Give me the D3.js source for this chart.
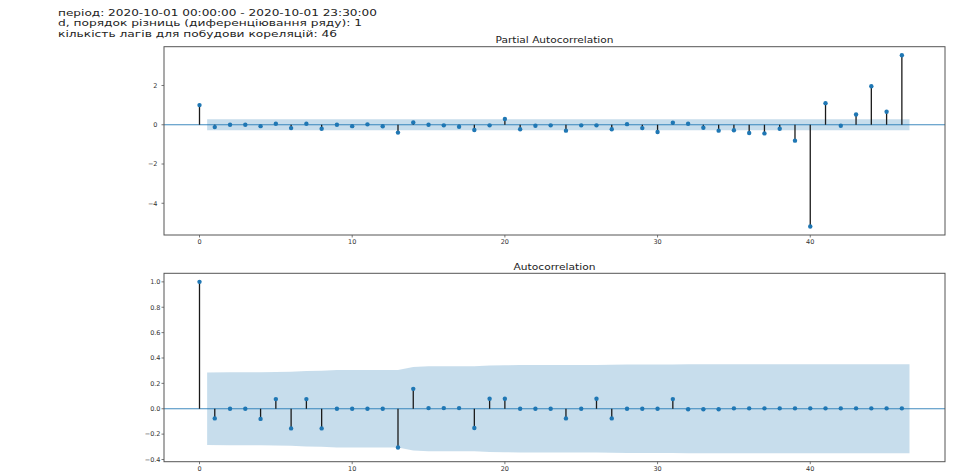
<!DOCTYPE html>
<html>
<head>
<meta charset="utf-8">
<script src="https://cdn.jsdelivr.net/npm/d3@7"></script>
<style>
  html, body { margin: 0; padding: 0; background: #ffffff; }
  svg { display: block; }
  text { font-family: "DejaVu Sans", sans-serif; }
</style>
</head>
<body>
<div id="chart"></div>
<script>
// ---------------- data ----------------
const headerLines = [
  "період: 2020-10-01 00:00:00 - 2020-10-01 23:30:00",
  "d, порядок різниць (диференціювання ряду): 1",
  "кількість лагів для побудови кореляцій: 46"
];
const pacfTitle = "Partial Autocorrelation";
const acfTitle = "Autocorrelation";

const lags = d3.range(0, 47);

const pacfValues = [1.0, -0.12, 0.0, 0.0, -0.07, 0.05, -0.17, 0.05, -0.2, 0.0,
  -0.07, 0.02, -0.08, -0.4, 0.12, 0.0, -0.03, -0.1, -0.27, -0.03,
  0.29, -0.23, -0.05, -0.03, -0.3, -0.03, -0.03, -0.23, 0.03, -0.17,
  -0.37, 0.1, 0.05, -0.15, -0.3, -0.28, -0.42, -0.44, -0.2, -0.81,
  -5.18, 1.1, -0.05, 0.52, 1.96, 0.66, 3.54];

const acfValues = [1.0, -0.076, 0.0, 0.0, -0.08, 0.076, -0.155, 0.076, -0.155, 0.0,
  0.0, 0.0, 0.0, -0.305, 0.157, 0.005, 0.005, 0.005, -0.152, 0.079,
  0.079, 0.0, 0.0, 0.0, -0.076, 0.0, 0.079, -0.076, 0.0, 0.0,
  0.0, 0.076, -0.004, -0.004, -0.004, 0.003, 0.003, 0.003, 0.003, 0.003,
  0.003, 0.003, 0.003, 0.003, 0.003, 0.003, 0.003];

// confidence half-widths for lags 1..46
const pacfBand = 0.286;
const acfBand = [0.286, 0.2875, 0.2875, 0.2875, 0.2894, 0.291, 0.2976, 0.2992, 0.3057, 0.3057,
  0.3057, 0.3057, 0.3057, 0.3296, 0.3357, 0.3357, 0.3357, 0.3357, 0.3413, 0.3428,
  0.3442, 0.3442, 0.3442, 0.3442, 0.3456, 0.3456, 0.3471, 0.3484, 0.3484, 0.3484,
  0.3484, 0.3498, 0.3498, 0.3498, 0.3498, 0.3498, 0.3498, 0.3498, 0.3498, 0.3498,
  0.3498, 0.3498, 0.3498, 0.3498, 0.3498, 0.3498];

const xTicks = [0, 10, 20, 30, 40];
const pacfYTicks = [-4, -2, 0, 2];
const acfYTicks = [-0.4, -0.2, 0.0, 0.2, 0.4, 0.6, 0.8, 1.0];

// ---------------- layout ----------------
const W = 959, H = 472;
const svg = d3.select("#chart").append("svg").attr("width", W).attr("height", H);

const C0 = "#1f77b4";
const axLeft = 164, axRight = 945;

// header
const headerWidths = [319, 304, 279];
headerLines.forEach((t, i) => {
  svg.append("text")
    .attr("x", 58).attr("y", 15.5 + i * 10.5)
    .attr("font-size", 9)
    .attr("fill", "#222")
    .attr("textLength", headerWidths[i])
    .attr("lengthAdjust", "spacingAndGlyphs")
    .text(t);
});

function panel(opts) {
  const { top, bottom, values, band, yTicks, title, titleY, titleWidth, yFmt, labelRight } = opts;
  const g = svg.append("g");

  // x scale with matplotlib-like 5% margins over [0, 46.5]
  const xMin = 0, xMax = lags[lags.length - 1] + 0.5;
  const xPad = (xMax - xMin) * 0.05;
  const x = d3.scaleLinear().domain([xMin - xPad, xMax + xPad]).range([axLeft, axRight]);

  // band points (first shifted -0.5, last +0.5)
  const bandPts = lags.slice(1).map((l, i) => {
    let xv = l;
    if (i === 0) xv -= 0.5;
    if (i === lags.length - 2) xv += 0.5;
    return { x: xv, hw: band[i] };
  });

  const yLo = Math.min(d3.min(values), d3.min(bandPts, d => -d.hw));
  const yHi = Math.max(d3.max(values), d3.max(bandPts, d => d.hw));
  const yPad = (yHi - yLo) * 0.05;
  const y = d3.scaleLinear().domain([yLo - yPad, yHi + yPad]).range([bottom, top]);

  // confidence fill
  g.append("path")
    .datum(bandPts)
    .attr("d", d3.area().x(d => x(d.x)).y0(d => y(-d.hw)).y1(d => y(d.hw)))
    .attr("fill", C0).attr("fill-opacity", 0.25);

  // zero line
  g.append("line")
    .attr("x1", axLeft).attr("x2", axRight)
    .attr("y1", y(0)).attr("y2", y(0))
    .attr("stroke", C0).attr("stroke-width", 1).attr("stroke-opacity", 0.85);

  // stems
  g.selectAll(".stem").data(lags).enter().append("line")
    .attr("x1", d => x(d)).attr("x2", d => x(d))
    .attr("y1", y(0)).attr("y2", d => y(values[d]))
    .attr("stroke", "#1a1a1a").attr("stroke-width", 1.3);

  // markers
  g.selectAll(".mk").data(lags).enter().append("circle")
    .attr("cx", d => x(d)).attr("cy", d => y(values[d]))
    .attr("r", 2.2).attr("fill", C0);

  // frame
  g.append("rect")
    .attr("x", axLeft).attr("y", top)
    .attr("width", axRight - axLeft).attr("height", bottom - top)
    .attr("fill", "none").attr("stroke", "#555").attr("stroke-width", 1);

  // x ticks
  xTicks.forEach(t => {
    g.append("line").attr("x1", x(t)).attr("x2", x(t))
      .attr("y1", bottom).attr("y2", bottom + 2.5)
      .attr("stroke", "#555").attr("stroke-width", 0.8);
    g.append("text").attr("x", x(t)).attr("y", bottom + 9)
      .attr("text-anchor", "middle").attr("font-size", 6.5).attr("fill", "#333")
      .text(t);
  });

  // y ticks
  yTicks.forEach(t => {
    g.append("line").attr("x1", axLeft - 2.5).attr("x2", axLeft)
      .attr("y1", y(t)).attr("y2", y(t))
      .attr("stroke", "#555").attr("stroke-width", 0.8);
    g.append("text").attr("x", labelRight).attr("y", y(t) + 2.3)
      .attr("text-anchor", "end").attr("font-size", 6.5).attr("fill", "#333")
      .text(yFmt(t));
  });

  // title
  svg.append("text")
    .attr("x", (axLeft + axRight) / 2).attr("y", titleY)
    .attr("text-anchor", "middle").attr("font-size", 8.5).attr("fill", "#222")
    .attr("textLength", titleWidth).attr("lengthAdjust", "spacingAndGlyphs")
    .text(title);
}

const minusFmt = f => v => f(v).replace("-", "\u2212");

panel({
  top: 46.7, bottom: 235, values: pacfValues,
  band: lags.slice(1).map(() => pacfBand),
  yTicks: pacfYTicks, title: pacfTitle, titleY: 43, titleWidth: 118,
  yFmt: minusFmt(d3.format("d")), labelRight: 157.5
});

panel({
  top: 273.3, bottom: 461.7, values: acfValues, band: acfBand,
  yTicks: acfYTicks, title: acfTitle, titleY: 269.5, titleWidth: 82,
  yFmt: minusFmt(d3.format(".1f")), labelRight: 160.5
});
</script>
</body>
</html>
